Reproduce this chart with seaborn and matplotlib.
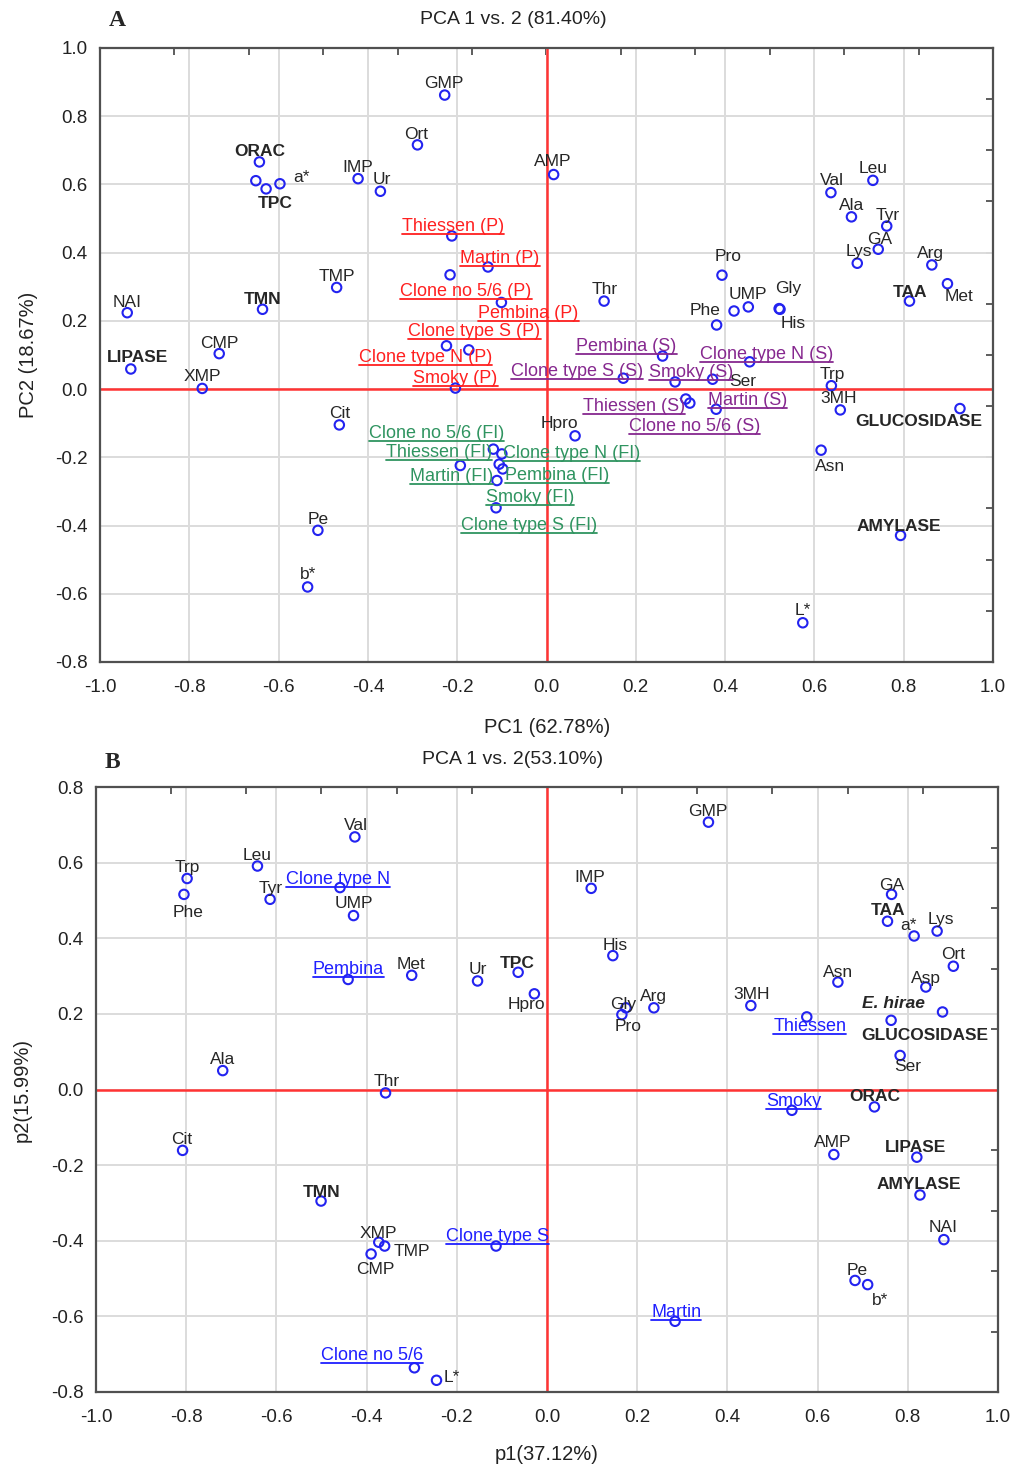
import numpy as np
import pandas as pd
import matplotlib
matplotlib.use("Agg")
import matplotlib.pyplot as plt
import seaborn as sns
from matplotlib.lines import Line2D
from matplotlib.transforms import IdentityTransform

sns.set_theme(style="white")
plt.rcParams['font.family'] = ['Liberation Sans', 'DejaVu Sans']
plt.rcParams['axes.unicode_minus'] = False

# ---------------- DATA : panel A (PCA 1 vs 2, 81.40 %) ----------------
A_var_names = ["NAI", "LIPASE", "CMP", "XMP", "TMN", "ORAC", "", "TPC", "a*", "IMP",
               "Ur", "GMP", "Ort", "TMP", "Cit", "Pe", "b*", "AMP", "Thr", "Hpro",
               "Pro", "Phe", "", "UMP", "Gly", "His", "Val", "Leu", "Ala", "Tyr",
               "GA", "Lys", "Arg", "Met", "TAA", "Ser", "Trp", "3MH", "GLUCOSIDASE",
               "Asn", "AMYLASE", "L*"]
A_var_pc1 = [-0.939, -0.931, -0.733, -0.771, -0.636, -0.643, -0.651, -0.628, -0.597, -0.422,
             -0.372, -0.228, -0.289, -0.470, -0.464, -0.512, -0.535, 0.016, 0.129, 0.064,
             0.393, 0.381, 0.420, 0.452, 0.521, 0.523, 0.637, 0.731, 0.683, 0.762,
             0.743, 0.696, 0.863, 0.898, 0.813, 0.372, 0.638, 0.658, 0.926,
             0.615, 0.793, 0.574]
A_var_pc2 = [0.224, 0.059, 0.104, 0.002, 0.234, 0.666, 0.611, 0.587, 0.602, 0.617,
             0.580, 0.862, 0.716, 0.298, -0.105, -0.414, -0.580, 0.629, 0.258, -0.137,
             0.334, 0.188, 0.229, 0.241, 0.236, 0.234, 0.576, 0.612, 0.505, 0.478,
             0.410, 0.369, 0.364, 0.309, 0.258, 0.029, 0.010, -0.061, -0.057,
             -0.179, -0.429, -0.685]

A_P_names = ["Thiessen (P)", "Martin (P)", "Clone no 5/6 (P)", "Pembina (P)",
             "Clone type S (P)", "Clone type N (P)", "Smoky (P)"]
A_P_pc1 = [-0.212, -0.131, -0.216, -0.101, -0.224, -0.174, -0.204]
A_P_pc2 = [0.449, 0.358, 0.335, 0.254, 0.127, 0.115, 0.003]

A_S_names = ["Pembina (S)", "Clone type S (S)", "Smoky (S)", "Clone type N (S)",
             "Thiessen (S)", "Clone no 5/6 (S)", "Martin (S)"]
A_S_pc1 = [0.260, 0.172, 0.288, 0.455, 0.312, 0.321, 0.380]
A_S_pc2 = [0.097, 0.032, 0.021, 0.080, -0.029, -0.041, -0.059]

A_FI_names = ["Clone no 5/6 (FI)", "Thiessen (FI)", "Clone type N (FI)", "Martin (FI)",
              "Pembina (FI)", "Smoky (FI)", "Clone type S (FI)"]
A_FI_pc1 = [-0.119, -0.193, -0.100, -0.106, -0.098, -0.111, -0.113]
A_FI_pc2 = [-0.176, -0.224, -0.190, -0.220, -0.234, -0.268, -0.348]

# ---------------- DATA : panel B (PCA 1 vs 2, 53.10 %) ----------------
B_var_names = ["Val", "Leu", "Trp", "Phe", "Tyr", "UMP", "Met", "Ur", "TPC", "Hpro",
               "Ala", "Thr", "Cit", "TMN", "XMP", "TMP", "CMP", "L*", "GMP", "IMP",
               "His", "Gly", "Pro", "Arg", "3MH", "Asn", "GA", "TAA", "a*", "Lys",
               "Ort", "Asp", "E. hirae", "GLUCOSIDASE", "Ser", "ORAC", "AMP", "LIPASE",
               "AMYLASE", "NAI", "Pe", "b*"]
B_var_p1 = [-0.426, -0.642, -0.798, -0.805, -0.614, -0.429, -0.300, -0.154, -0.064, -0.028,
            -0.719, -0.358, -0.808, -0.501, -0.373, -0.360, -0.390, -0.245, 0.358, 0.098,
            0.146, 0.175, 0.166, 0.237, 0.452, 0.645, 0.764, 0.755, 0.814, 0.865,
            0.901, 0.840, 0.763, 0.877, 0.783, 0.726, 0.636, 0.820,
            0.827, 0.880, 0.683, 0.711]
B_var_p2 = [0.668, 0.591, 0.558, 0.516, 0.503, 0.460, 0.302, 0.287, 0.310, 0.253,
            0.050, -0.009, -0.161, -0.295, -0.404, -0.414, -0.435, -0.769, 0.707, 0.532,
            0.354, 0.216, 0.198, 0.216, 0.222, 0.284, 0.516, 0.445, 0.406, 0.419,
            0.326, 0.271, 0.183, 0.205, 0.090, -0.046, -0.172, -0.179,
            -0.279, -0.397, -0.505, -0.516]

B_S_names = ["Clone type N", "Pembina", "Thiessen", "Smoky", "Clone type S", "Martin",
             "Clone no 5/6"]
B_S_p1 = [-0.459, -0.441, 0.576, 0.543, -0.113, 0.284, -0.294]
B_S_p2 = [0.534, 0.291, 0.192, -0.055, -0.414, -0.613, -0.736]

# ---------------- label layout (pixel offsets: right, down) ----------------
A_var_off = [(0, -10), (7, -11), (0, -10), (0, -12), (0, -10), (0, -10), (0, 0), (9, 15), (22, -6), (0, -11),
             (1, -12), (-1, -12), (-1, -10), (0, -11), (0, -11), (0, -11), (0, -12), (-1, -13), (1, -12), (-16, -12),
             (6, -19), (-12, -14), (0, 0), (0, -12), (9, -20), (13, 14), (1, -12), (0, -12), (0, -11), (1, -11),
             (1, -10), (2, -12), (-1, -11), (12, 13), (0, -9), (30, 2), (1, -11), (-2, -11), (-41, 13),
             (9, 16), (-2, -9), (0, -12)]
A_P_off = [(1, -9), (12, -8), (16, 17), (27, 11), (28, -14), (-43, 8), (0, -10)]
A_S_off = [(-36, -10), (-46, -7), (16, -9), (17, -7), (-52, 7), (5, 23), (31, -9)]
A_FI_off = [(-57, -16), (-21, -13), (70, 0), (-48, 12), (54, 7), (33, 17), (33, 18)]

B_var_off = [(1, -11), (0, -11), (0, -11), (4, 18), (1, -11), (0, -12), (-1, -11), (0, -11), (-1, -9), (-8, 11),
             (0, -11), (1, -11), (-1, -11), (1, -9), (0, -9), (27, 5), (4, 16), (15, -3), (-1, -11), (-1, -11),
             (2, -10), (-3, -3), (6, 12), (0, -11), (1, -11), (0, -10), (0, -9), (0, -11), (-6, -10), (4, -12),
             (0, -12), (0, -9), (2, -17), (-18, 24), (8, 11), (0, -10), (-1, -12), (-1, -10),
             (-1, -10), (-1, -12), (2, -10), (12, 16)]
B_S_off = [(-2, -8), (0, -10), (3, 10), (2, -9), (1, -10), (1, -9), (-42, -12)]

BOLD = {"LIPASE", "TMN", "ORAC", "TPC", "TAA", "GLUCOSIDASE", "AMYLASE", "E. hirae"}

MARK = "#2323f0"
TXT = "#262626"
RED = "#ff2020"
PURPLE = "#86288f"
GREEN = "#2f9460"
BLUE = "#1f1fff"
LINE_RED = "#ff3333"

W, H = 1015, 1470
fig = plt.figure(figsize=(W / 100, H / 100), dpi=100)
fig.patch.set_facecolor("white")


def px_axes(l, t, r, b):
    return fig.add_axes([l / W, 1 - b / H, (r - l) / W, (b - t) / H])


axA = px_axes(100, 48, 993, 662)
axB = px_axes(96, 787, 998, 1392)

underlined = []


def setup(ax, ylo, yhi, top_ticks, right_ticks):
    ax.set_xlim(-1.0, 1.0)
    ax.set_ylim(ylo, yhi)
    xt = np.round(np.arange(-1.0, 1.0001, 0.2), 1)
    yt = np.round(np.arange(ylo, yhi + 0.0001, 0.2), 1)
    ax.set_xticks(xt)
    ax.set_yticks(yt)
    ax.set_xticklabels([f"{v + 0:.1f}" for v in xt])
    ax.set_yticklabels([f"{v + 0:.1f}" for v in yt])
    ax.grid(True, color="#dcdcdc", lw=1.4)
    ax.set_axisbelow(True)
    ax.axhline(0, color=LINE_RED, lw=1.8, zorder=1.5)
    ax.axvline(0, color=LINE_RED, lw=1.8, zorder=1.5)
    for s in ax.spines.values():
        s.set_color("#505050")
        s.set_linewidth(1.6)
    ax.tick_params(axis="both", direction="in", length=5, width=1.3, color="#505050",
                   labelsize=13.5, labelcolor="#222222")
    ax.tick_params(axis="x", pad=12)
    ax.tick_params(axis="y", pad=9)
    sx = ax.secondary_xaxis("top")
    sx.set_xticks(top_ticks)
    sx.tick_params(axis="x", direction="in", length=5, width=1.3, color="#505050",
                   labeltop=False, labelbottom=False)
    sy = ax.secondary_yaxis("right")
    sy.set_yticks(right_ticks)
    sy.tick_params(axis="y", direction="in", length=5, width=1.3, color="#505050",
                   labelright=False, labelleft=False)


def points(ax, xs, ys):
    df = pd.DataFrame({"x": xs, "y": ys})
    sns.scatterplot(data=df, x="x", y="y", ax=ax, marker="o", s=46,
                    facecolor="none", edgecolor=MARK, linewidth=1.5,
                    legend=False, zorder=4)
    ax.set_xlabel("")
    ax.set_ylabel("")


def labels(ax, names, xs, ys, offs, color, fs=12.5, underline=False):
    for n, x, y, (dx, dy) in zip(names, xs, ys, offs):
        if not n:
            continue
        style = "italic" if n == "E. hirae" else "normal"
        weight = "bold" if (n in BOLD and not underline) else "normal"
        t = ax.annotate(n, (x, y), xytext=(dx, -dy), textcoords="offset pixels",
                        ha="center", va="center", fontsize=fs, color=color,
                        fontweight=weight, fontstyle=style, zorder=5)
        if underline:
            underlined.append((t, color))


sixth = np.arange(-5, 6) / 6.0

# ---- Panel A ----
setup(axA, -0.8, 1.0, sixth, np.round(np.arange(-0.65, 0.86, 0.15), 2))
points(axA, A_var_pc1 + A_P_pc1 + A_S_pc1 + A_FI_pc1, A_var_pc2 + A_P_pc2 + A_S_pc2 + A_FI_pc2)
labels(axA, A_var_names, A_var_pc1, A_var_pc2, A_var_off, TXT)
labels(axA, A_P_names, A_P_pc1, A_P_pc2, A_P_off, RED, fs=13, underline=True)
labels(axA, A_S_names, A_S_pc1, A_S_pc2, A_S_off, PURPLE, fs=13, underline=True)
labels(axA, A_FI_names, A_FI_pc1, A_FI_pc2, A_FI_off, GREEN, fs=13, underline=True)

# ---- Panel B ----
setup(axB, -0.8, 0.8, sixth, np.round(np.arange(-0.64, 0.65, 0.16), 2))
points(axB, B_var_p1 + B_S_p1, B_var_p2 + B_S_p2)
labels(axB, B_var_names, B_var_p1, B_var_p2, B_var_off, TXT)
labels(axB, B_S_names, B_S_p1, B_S_p2, B_S_off, BLUE, fs=13, underline=True)

# ---- titles & axis labels ----
def ftxt(x, y, s, **kw):
    fig.text(x / W, 1 - y / H, s, ha="center", va="center", **kw)


ftxt(117, 20, "A", fontsize=17, fontweight="bold", family=["Liberation Serif"])
ftxt(513, 20, "PCA 1 vs. 2 (81.40%)", fontsize=14, color="#222222")
ftxt(547, 727, "PC1 (62.78%)", fontsize=14.5, color="#222222")
ftxt(28, 355, "PC2 (18.67%)", fontsize=14.5, color="#222222", rotation=90)

ftxt(112, 762, "B", fontsize=17, fontweight="bold", family=["Liberation Serif"])
ftxt(513, 759, "PCA 1 vs. 2(53.10%)", fontsize=14, color="#222222")
ftxt(547, 1455, "p1(37.12%)", fontsize=14.5, color="#222222")
ftxt(22, 1090, "p2(15.99%)", fontsize=14.5, color="#222222", rotation=90)

# ---- underline sample labels ----
fig.canvas.draw()
rend = fig.canvas.get_renderer()
for t, c in underlined:
    bb = t.get_window_extent(rend)
    fig.add_artist(Line2D([bb.x0, bb.x1], [bb.y0 + 1, bb.y0 + 1], transform=IdentityTransform(),
                          color=c, lw=1.3))

fig.savefig("out.png", dpi=100, facecolor="white")
